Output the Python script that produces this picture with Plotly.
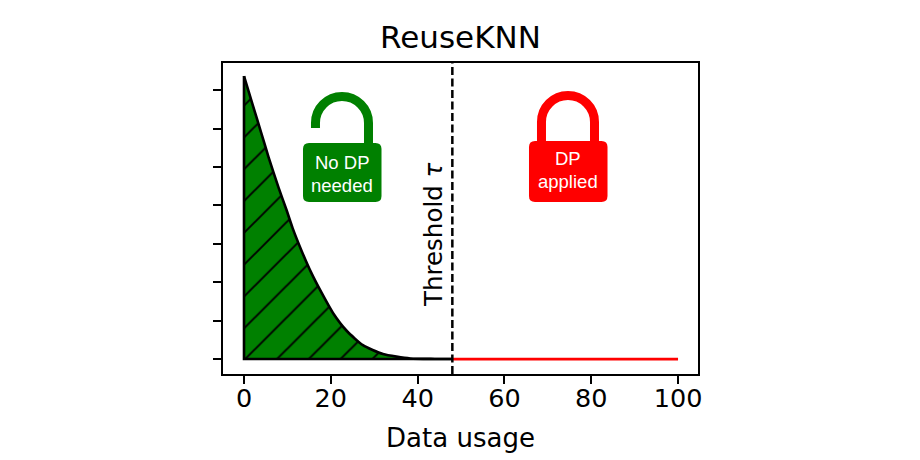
import plotly.graph_objects as go

# y is in tick steps
usage = [0, 2, 4, 5.65, 8, 9.8, 11.2, 13.3, 15.4, 17.9, 20.5, 23.7, 27.4, 32, 38.3, 44, 48]
density = [7.37, 6.62, 5.88, 5.26, 4.45, 3.88, 3.41, 2.81, 2.27, 1.72, 1.2, 0.73, 0.36, 0.13, 0.015, 0.002, 0]
edge_x = [0, 0, 48]
edge_y = [7.37, 0, 0]
red_x = [48, 100]
red_y = [0, 0]
threshold = 48
x_ticks = [0, 20, 40, 60, 80, 100]
y_ticks = [0, 1, 2, 3, 4, 5, 6, 7]

# the page puts the plot 8px in from the corner
OFF = 8
W, H = 920 - OFF, 460 - OFF
L, R, T, B = 223, 698, 63, 374


def px(x, y):
    return '%.4f,%.4f' % ((x - L) / (R - L), (B - y) / (B - T))


# rounded rect, pixel coordinates of the screenshot
def body(x0, y0, x1, y1, r=6):
    return ('M' + px(x0 + r, y0) + ' L' + px(x1 - r, y0) + ' Q' + px(x1, y0) + ' ' + px(x1, y0 + r)
            + ' L' + px(x1, y1 - r) + ' Q' + px(x1, y1) + ' ' + px(x1 - r, y1)
            + ' L' + px(x0 + r, y1) + ' Q' + px(x0, y1) + ' ' + px(x0, y1 - r)
            + ' L' + px(x0, y0 + r) + ' Q' + px(x0, y0) + ' ' + px(x0 + r, y0) + ' Z')


def shackle(x0, x1, cy, left_end, right_end):
    r = (x1 - x0) / 2
    k = r * 0.5523
    xm = (x0 + x1) / 2
    return ('M' + px(x0, left_end) + ' L' + px(x0, cy)
            + ' C' + px(x0, cy - k) + ' ' + px(xm - k, cy - r) + ' ' + px(xm, cy - r)
            + ' C' + px(xm + k, cy - r) + ' ' + px(x1, cy - k) + ' ' + px(x1, cy)
            + ' L' + px(x1, right_end))


def lock_shapes(color, body_box, sh):
    return [
        dict(type='path', xref='paper', yref='paper', path=shackle(*sh), line=dict(color=color, width=9)),
        dict(type='path', xref='paper', yref='paper', path=body(*body_box), fillcolor=color, line=dict(width=0)),
    ]


def label(text, x, y, size=18.5, color='white', font='Liberation Sans', angle=0):
    return dict(text=text, xref='paper', yref='paper', x=(x - L) / (R - L), y=(B - y) / (B - T),
                showarrow=False, textangle=angle, xanchor='center', yanchor='middle',
                font=dict(family=font, size=size, color=color))


fig = go.Figure()
fig.add_trace(go.Scatter(x=usage, y=density, mode='lines', fill='tozeroy',
                         fillpattern=dict(shape='/', fgcolor='black', fgopacity=1, bgcolor='green', size=22.5,
                                          solidity=0.085),
                         line=dict(color='black', width=2.6, shape='spline', smoothing=0.6), hoverinfo='skip'))
fig.add_trace(go.Scatter(x=edge_x, y=edge_y, mode='lines', line=dict(color='black', width=2.6), hoverinfo='skip'))
fig.add_trace(go.Scatter(x=red_x, y=red_y, mode='lines', line=dict(color='red', width=2.8), hoverinfo='skip'))

shapes = lock_shapes('green', (303, 143, 381.5, 202), (315.5, 368.5, 123, 128, 146))
shapes += lock_shapes('red', (529, 141, 607.5, 202), (541.5, 594.5, 122, 144, 144))
shapes.append(dict(type='line', xref='x', yref='paper', x0=threshold, x1=threshold, y0=0, y1=1,
                   line=dict(color='black', width=2.5, dash='8px,3.5px')))

fig.update_layout(
    width=W, height=H, margin=dict(l=L - OFF, r=920 - R, t=T - OFF, b=460 - B, autoexpand=False),
    showlegend=False, paper_bgcolor='white', plot_bgcolor='white',
    font=dict(family='DejaVu Sans', size=25.5, color='black'),
    title=dict(text='ReuseKNN', x=((L + R) / 2 - OFF) / W, xanchor='center', y=1 - (37 - OFF) / H, yanchor='middle',
               font=dict(size=31)),
    shapes=shapes,
    annotations=[
        label('No DP', 342, 162), label('needed', 342, 185),
        label('DP', 568, 158), label('applied', 568, 181),
        label('Threshold <i>τ</i>', 433, 235, size=24.5, color='black', font='DejaVu Sans', angle=-90),
    ],
)
fig.update_xaxes(range=[-4.84, 104.6], tickvals=x_ticks, ticks='outside', ticklen=8, tickwidth=2.2, tickcolor='black',
                 showgrid=False, zeroline=False, showline=True, linecolor='black', linewidth=2.4, mirror=True,
                 ticklabelstandoff=-8, tickfont=dict(size=25.5),
                 title=dict(text='Data usage', font=dict(size=26), standoff=17))
fig.update_yaxes(range=[-0.39, 7.71], tickvals=y_ticks, ticktext=[''] * len(y_ticks), ticks='outside', ticklen=8,
                 tickwidth=2.2, tickcolor='black', showgrid=False, zeroline=False, showline=True, linecolor='black',
                 linewidth=2.4, mirror=True)

fig.write_html("out.html")
